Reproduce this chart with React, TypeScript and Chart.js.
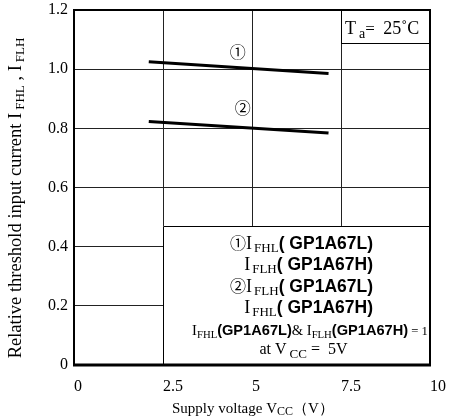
import React, { useEffect, useRef } from "react";
import { Chart, registerables } from "chart.js";

Chart.register(...registerables);

// ---- data ----
const supplyVoltage: number[] = [2.1, 7.15];
const curve1: number[] = [1.025, 0.985];
const curve2: number[] = [0.823, 0.784];
const xTicks: number[] = [0, 2.5, 5, 7.5, 10];
const yTicks: number[] = [0, 0.2, 0.4, 0.6, 0.8, 1.0, 1.2];
const curveLabels: string[] = ["①", "②"];
const curveLabelX: number[] = [4.6, 4.74];
const curveLabelY: number[] = [1.058, 0.868];
const tempBox = { x0: 7.5, x1: 10, y0: 1.09, y1: 1.2 };
const noteBox = { x0: 2.5, x1: 10, y0: 0, y1: 0.47 };

const SERIF = '"Liberation Serif", "Times New Roman", serif';
const SANS = '"Liberation Sans", Arial, sans-serif';
const CIRC = '"Noto Sans CJK JP", "DejaVu Sans", sans-serif';

type Seg = { t: string; f: string; dy?: number; dx?: number };

function segWidth(ctx: CanvasRenderingContext2D, segs: Seg[]) {
  let w = 0;
  for (const s of segs) {
    ctx.font = s.f;
    w += ctx.measureText(s.t).width + (s.dx || 0);
  }
  return w;
}

function drawRich(
  ctx: CanvasRenderingContext2D,
  segs: Seg[],
  x: number,
  y: number,
  align: "left" | "right" | "center"
) {
  const w = segWidth(ctx, segs);
  let cx = align === "left" ? x : align === "right" ? x - w : x - w / 2;
  ctx.textAlign = "left";
  ctx.textBaseline = "alphabetic";
  for (const s of segs) {
    ctx.font = s.f;
    cx += s.dx || 0;
    ctx.fillText(s.t, cx, y + (s.dy || 0));
    cx += ctx.measureText(s.t).width;
  }
}

const overlayPlugin = {
  id: "overlay",
  afterDraw(chart: any) {
    const ctx: CanvasRenderingContext2D = chart.ctx;
    const xs = chart.scales.x;
    const ys = chart.scales.y;
    const area = chart.chartArea;
    ctx.save();
    ctx.fillStyle = "#000";
    ctx.strokeStyle = "#000";

    // curve labels
    ctx.font = `16px ${CIRC}`;
    ctx.textAlign = "center";
    ctx.textBaseline = "middle";
    curveLabels.forEach((l, i) => {
      ctx.fillText(l, xs.getPixelForValue(curveLabelX[i]), ys.getPixelForValue(curveLabelY[i]));
    });

    // temperature box
    {
      const l = xs.getPixelForValue(tempBox.x0);
      const r = xs.getPixelForValue(tempBox.x1);
      const t = ys.getPixelForValue(tempBox.y1);
      const b = ys.getPixelForValue(tempBox.y0);
      ctx.fillStyle = "#fff";
      ctx.fillRect(l, t, r - l, b - t);
      ctx.fillStyle = "#000";
      ctx.lineWidth = 1;
      ctx.strokeRect(Math.round(l) + 0.5, t, r - l, Math.round(b - t) + 0.5);
      drawRich(
        ctx,
        [
          { t: "T", f: `18px ${SERIF}` },
          { t: "a", f: `14px ${SERIF}`, dy: 4, dx: 3 },
          { t: "=  ", f: `17px ${SERIF}` },
          { t: "25˚C", f: `18px ${SERIF}` },
        ],
        l + 4,
        t + 24,
        "left"
      );
    }

    // note box
    {
      const l = xs.getPixelForValue(noteBox.x0);
      const r = xs.getPixelForValue(noteBox.x1);
      const t = ys.getPixelForValue(noteBox.y1);
      const b = ys.getPixelForValue(noteBox.y0);
      ctx.fillStyle = "#fff";
      ctx.fillRect(l, t, r - l, b - t);
      ctx.fillStyle = "#000";
      ctx.lineWidth = 1;
      ctx.beginPath();
      ctx.moveTo(Math.round(l) + 0.5, b);
      ctx.lineTo(Math.round(l) + 0.5, Math.round(t) + 0.5);
      ctx.lineTo(r, Math.round(t) + 0.5);
      ctx.stroke();

      const serif = `18px ${SERIF}`;
      const sub = `13px ${SERIF}`;
      const bold = `bold 17.5px ${SANS}`;
      const circ = `16px ${CIRC}`;
      const rx = l + 210;
      const lh = 21.5;
      const y0 = t + 23;
      drawRich(ctx, [{ t: "①", f: circ }, { t: "I", f: serif }, { t: "FHL", f: sub, dy: 3, dx: 2 }, { t: "( GP1A67L)", f: bold }], rx, y0, "right");
      drawRich(ctx, [{ t: "I", f: serif }, { t: "FLH", f: sub, dy: 3, dx: 2 }, { t: "( GP1A67H)", f: bold }], rx, y0 + lh, "right");
      drawRich(ctx, [{ t: "②", f: circ }, { t: "I", f: serif }, { t: "FLH", f: sub, dy: 3, dx: 2 }, { t: "( GP1A67L)", f: bold }], rx, y0 + 2 * lh, "right");
      drawRich(ctx, [{ t: "I", f: serif }, { t: "FHL", f: sub, dy: 3, dx: 2 }, { t: "( GP1A67H)", f: bold }], rx, y0 + 3 * lh, "right");
      const s5 = `14.6px ${SERIF}`;
      const sub5 = `10.7px ${SERIF}`;
      const b5 = `bold 14.6px ${SANS}`;
      drawRich(
        ctx,
        [
          { t: "I", f: s5 },
          { t: "FHL", f: sub5, dy: 3 },
          { t: "(GP1A67L)", f: b5 },
          { t: "& ", f: s5 },
          { t: "I", f: s5 },
          { t: "FLH", f: sub5, dy: 3 },
          { t: "(GP1A67H)", f: b5 },
          { t: " = 1", f: `12.7px ${SERIF}` },
        ],
        (l + r) / 2 + 13.5,
        y0 + 4 * lh,
        "center"
      );
      drawRich(
        ctx,
        [
          { t: "at V", f: `16px ${SERIF}` },
          { t: "CC", f: `13px ${SERIF}`, dy: 4, dx: 3 },
          { t: " =  5V", f: `16px ${SERIF}` },
        ],
        (l + r) / 2 + 7,
        y0 + 4 * lh + 19,
        "center"
      );
    }

    // plot frame
    ctx.lineWidth = 2;
    ctx.strokeRect(area.left, area.top, area.right - area.left, area.bottom - area.top);
    ctx.lineWidth = 3;
    ctx.beginPath();
    ctx.moveTo(area.left - 1, area.bottom);
    ctx.lineTo(area.right + 1, area.bottom);
    ctx.stroke();

    // axis titles
    ctx.fillStyle = "#000";
    drawRich(
      ctx,
      [
        { t: "Supply voltage V", f: `15px ${SERIF}` },
        { t: "CC", f: `12px ${SERIF}`, dy: 2 },
        { t: "（V）", f: `15px ${SERIF}` },
      ],
      172,
      area.bottom + 48,
      "left"
    );
    ctx.save();
    ctx.translate(21, 198);
    ctx.rotate(-Math.PI / 2);
    drawRich(
      ctx,
      [
        { t: "Relative threshold input current I", f: `18.5px ${SERIF}` },
        { t: "FHL", f: `13px ${SERIF}`, dy: 3, dx: 3 },
        { t: " , I", f: `18.5px ${SERIF}` },
        { t: "FLH", f: `13px ${SERIF}`, dy: 3, dx: 3 },
      ],
      0,
      0,
      "center"
    );
    ctx.restore();
    ctx.restore();
  },
};

export default function App() {
  const ref = useRef<HTMLCanvasElement | null>(null);
  useEffect(() => {
    if (!ref.current) return;
    const tickFont = { family: SERIF, size: 16 };
    const chart = new Chart(ref.current, {
      type: "scatter",
      data: {
        datasets: [
          {
            label: "curve 1",
            data: supplyVoltage.map((v, i) => ({ x: v, y: curve1[i] })),
            showLine: true,
            borderColor: "#000",
            borderWidth: 3,
            pointRadius: 0,
          },
          {
            label: "curve 2",
            data: supplyVoltage.map((v, i) => ({ x: v, y: curve2[i] })),
            showLine: true,
            borderColor: "#000",
            borderWidth: 3,
            pointRadius: 0,
          },
        ],
      },
      options: {
        animation: false,
        responsive: false,
        layout: { padding: { top: 10, right: 19, left: 0, bottom: 0 } },
        plugins: { legend: { display: false }, tooltip: { enabled: false } },
        scales: {
          x: {
            type: "linear",
            min: xTicks[0],
            max: xTicks[xTicks.length - 1],
            afterBuildTicks: (s: any) => {
              s.ticks = xTicks.map((v) => ({ value: v }));
            },
            afterFit: (s: any) => {
              s.height = 54;
              s.paddingLeft = 0;
              s.paddingRight = 0;
            },
            ticks: {
              font: tickFont,
              color: "#000",
              align: "start",
              padding: 12,
              labelOffset: 0,
              callback: (v: any) => String(v),
            },
            grid: { color: "#222", lineWidth: 1, drawTicks: false },
            border: { display: false },
          },
          y: {
            type: "linear",
            min: yTicks[0],
            max: yTicks[yTicks.length - 1],
            afterBuildTicks: (s: any) => {
              s.ticks = yTicks.map((v) => ({ value: v }));
            },
            afterFit: (s: any) => {
              s.width = 74;
              s.paddingTop = 0;
              s.paddingBottom = 0;
            },
            ticks: {
              font: tickFont,
              color: "#000",
              padding: 6,
              callback: (v: any) => (v === 0 ? "0" : Number(v).toFixed(1)),
            },
            grid: { color: "#222", lineWidth: 1, drawTicks: false },
            border: { display: false },
          },
        },
      },
      plugins: [overlayPlugin],
    } as any);
    return () => chart.destroy();
  }, []);
  return (
    <div style={{ position: "absolute", left: 0, top: 0, width: 449, height: 419, background: "#fff" }}>
      <canvas ref={ref} width={449} height={419} style={{ width: 449, height: 419 }} />
    </div>
  );
}
